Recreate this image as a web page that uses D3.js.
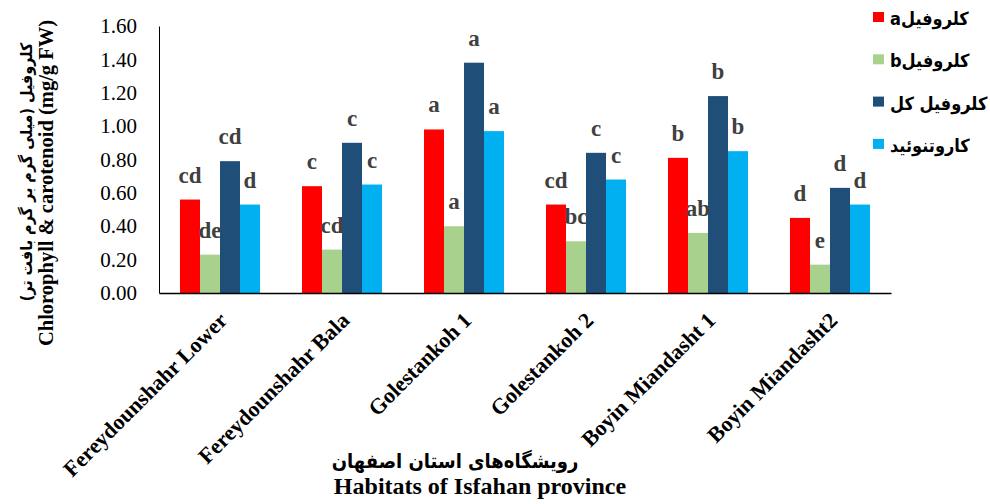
<!DOCTYPE html>
<html><head><meta charset="utf-8">
<script src="https://cdn.jsdelivr.net/npm/d3@7"></script>
<style>body{margin:0;background:#fff}svg{display:block}</style>
</head><body>
<svg id="c" width="990" height="504"></svg>
<script>
const sites = ["Fereydounshahr Lower","Fereydounshahr Bala","Golestankoh 1","Golestankoh 2","Boyin Miandasht 1","Boyin Miandasht2"];
const seriesNames = ["کلروفیلa","کلروفیلb","کلروفیل کل","کاروتنوئید"];
const seriesColors = ["#FF0000","#A9D18E","#1F4E79","#00B0F0"];
const chlA = [0.56,0.64,0.98,0.53,0.81,0.45];
const chlB = [0.23,0.26,0.40,0.31,0.36,0.17];
const chlT = [0.79,0.90,1.38,0.84,1.18,0.63];
const carot = [0.53,0.65,0.97,0.68,0.85,0.53];
const letA = ["cd","c","a","cd","b","d"];
const letB = ["de","cd","a","bc","ab","e"];
const letT = ["cd","c","a","c","b","d"];
const letC = ["d","c","a","c","b","d"];
const yTicks = [0,0.2,0.4,0.6,0.8,1.0,1.2,1.4,1.6];

const values = [chlA, chlB, chlT, carot];
const letters = [letA, letB, letT, letC];

const svg = d3.select("#c");
const serif = "'Liberation Serif','Times New Roman',serif";
const arab = "'DejaVu Sans Condensed','DejaVu Sans',sans-serif";
const RLE = "\u202B", PDF = "\u202C";

const y = d3.scaleLinear().domain([0,1.6]).range([293,26]);
const x0 = d3.scaleBand().domain(sites).range([159,891]).paddingInner(0.344).paddingOuter(0.172);
const x1 = d3.scaleBand().domain(d3.range(4)).range([0, x0.bandwidth()]);

// y axis
const yAxis = d3.axisLeft(y).tickValues(yTicks).tickFormat(d3.format(".2f")).tickSize(0).tickPadding(22);
const ga = svg.append("g").attr("transform","translate(159,0)").call(yAxis);
ga.select(".domain").attr("stroke","#000").attr("stroke-width",1);
ga.selectAll("text").attr("font-family",serif).attr("font-size",21).attr("fill","#000");

// bars
sites.forEach((s,i)=>{
  const g = svg.append("g").attr("transform",`translate(${x0(s)},0)`);
  values.forEach((arr,k)=>{
    g.append("rect").attr("x",x1(k)).attr("width",x1.bandwidth())
      .attr("y",y(arr[i])).attr("height",y(0)-y(arr[i])).attr("fill",seriesColors[k]);
  });
  values.forEach((arr,k)=>{
    g.append("text").attr("x",x1(k)+x1.bandwidth()/2).attr("y",y(arr[i])-17)
      .attr("text-anchor","middle").attr("font-family",serif).attr("font-weight","bold")
      .attr("font-size",23).attr("fill","#404040").text(letters[k][i]);
  });
});

// x axis
const xAxis = d3.axisBottom(x0).tickSize(0).tickPadding(0);
const gx = svg.append("g").attr("transform","translate(0,293)").call(xAxis);
gx.select(".domain").attr("stroke","#000").attr("stroke-width",1.5);
gx.selectAll("text").remove();
sites.forEach(s=>{
  svg.append("text").attr("transform",`translate(${x0(s)+x0.bandwidth()/2-3},310) rotate(-45)`)
    .attr("text-anchor","end").attr("dy","0.75em").attr("font-family",serif).attr("font-weight","bold")
    .attr("font-size",22).attr("fill","#000").text(s);
});

// x title
svg.append("text").attr("x",455).attr("y",468).attr("text-anchor","middle")
  .attr("font-family",arab).attr("font-weight","bold").attr("font-size",20).attr("fill","#000")
  .text(RLE+"رویشگاه‌های استان اصفهان"+PDF);
svg.append("text").attr("x",480).attr("y",494).attr("text-anchor","middle")
  .attr("font-family",serif).attr("font-weight","bold").attr("font-size",24).attr("fill","#000")
  .text("Habitats of Isfahan province");

// y title
svg.append("text").attr("transform","translate(32,172) rotate(-90)").attr("text-anchor","middle")
  .attr("font-family",arab).attr("font-weight","bold").attr("font-size",16).attr("fill","#000")
  .text(RLE+"کلروفیل (میلی گرم بر گرم بافت تر)"+PDF);
svg.append("text").attr("transform","translate(53,183) rotate(-90)").attr("text-anchor","middle")
  .attr("font-family",serif).attr("font-weight","bold").attr("font-size",20.5).attr("fill","#000")
  .text("Chlorophyll & carotenoid (mg/g FW)");

// legend
const lg = svg.append("g");
seriesNames.forEach((n,k)=>{
  const yy = 12 + k*42.3;
  lg.append("rect").attr("x",873).attr("y",yy).attr("width",11).attr("height",10).attr("fill",seriesColors[k]);
  lg.append("text").attr("x",890).attr("y",yy+13).attr("text-anchor","start")
    .attr("font-family",arab).attr("font-weight","bold").attr("font-size",18).attr("fill","#000")
    .text(RLE+n+PDF);
});
</script>
</body></html>
